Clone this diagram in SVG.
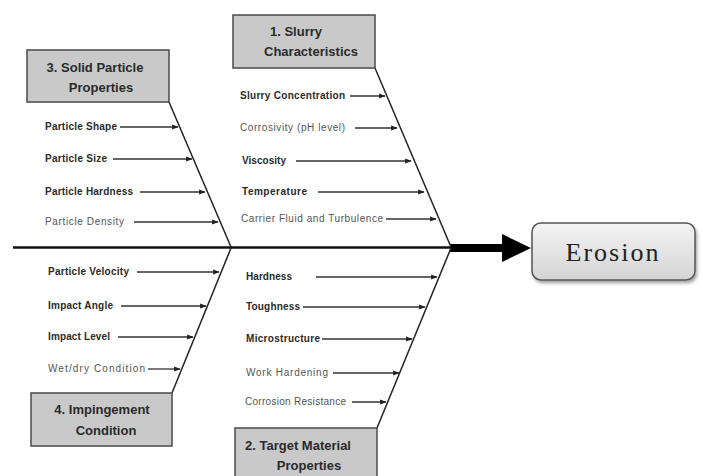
<svg xmlns="http://www.w3.org/2000/svg" width="703" height="476" viewBox="0 0 703 476">
<defs>
<style>
.box{fill:#c9c9c9;stroke:#4a4a4a;stroke-width:1.5}
.title{font-family:"Liberation Sans",Arial,sans-serif;font-size:13px;font-weight:bold;fill:#2a2a2a;text-anchor:middle}
.lb{font-family:"Liberation Sans",Arial,sans-serif;font-size:10px;font-weight:bold;fill:#2a2a2a}
.ll{font-family:"Liberation Sans",Arial,sans-serif;font-size:10px;fill:#555}
.arr{stroke:#333;stroke-width:1.3;fill:none;marker-end:url(#ah)}
.bone{stroke:#222;stroke-width:1.5;fill:none}
</style>
<marker id="ah" viewBox="0 0 10 10" refX="9" refY="5" markerWidth="5" markerHeight="5" orient="auto" markerUnits="strokeWidth">
<path d="M0,1 L10,5 L0,9 z" fill="#222"/>
</marker>
<linearGradient id="eg" x1="0" y1="0" x2="0" y2="1">
<stop offset="0" stop-color="#f4f4f4"/>
<stop offset="1" stop-color="#d4d4d4"/>
</linearGradient>
<filter id="sh" x="-10%" y="-10%" width="130%" height="140%">
<feDropShadow dx="1.5" dy="2.5" stdDeviation="1.5" flood-color="#000" flood-opacity="0.35"/>
</filter>
</defs>
<rect width="703" height="476" fill="#fff"/>

<g id="connectors">
<line x1="13" y1="247.5" x2="452" y2="247.5" stroke="#111" stroke-width="2.5"/>
<line x1="450" y1="248" x2="504" y2="248" stroke="#000" stroke-width="8"/>
<polygon points="502,234 531,248 502,262" fill="#000"/>
<line class="bone" x1="169" y1="102" x2="231" y2="247"/>
<line class="bone" x1="375" y1="68" x2="451" y2="247"/>
<line class="bone" x1="172" y1="393" x2="231" y2="248"/>
<line class="bone" x1="377" y1="428" x2="451" y2="248"/>
<line class="arr" x1="120" y1="127" x2="178" y2="127"/>
<line class="arr" x1="113" y1="159" x2="192" y2="159"/>
<line class="arr" x1="140" y1="192" x2="205" y2="192"/>
<line class="arr" x1="134" y1="222" x2="218" y2="222"/>
<line class="arr" x1="350" y1="96" x2="385" y2="96"/>
<line class="arr" x1="355" y1="128" x2="397" y2="128"/>
<line class="arr" x1="296" y1="161" x2="411" y2="161"/>
<line class="arr" x1="318" y1="192" x2="424" y2="192"/>
<line class="arr" x1="386" y1="219" x2="436" y2="219"/>
<line class="arr" x1="137" y1="272" x2="219" y2="272"/>
<line class="arr" x1="121" y1="306" x2="206" y2="306"/>
<line class="arr" x1="118" y1="337" x2="193" y2="337"/>
<line class="arr" x1="148" y1="369" x2="180" y2="369"/>
<line class="arr" x1="316" y1="277" x2="437" y2="277"/>
<line class="arr" x1="303" y1="307" x2="425" y2="307"/>
<line class="arr" x1="322" y1="339" x2="412" y2="339"/>
<line class="arr" x1="333" y1="373" x2="399" y2="373"/>
<line class="arr" x1="352" y1="402" x2="386" y2="402"/>
</g>

<g id="n3">
<rect class="box" x="27" y="50" width="142" height="52"/>
<text class="title" x="95" y="72">3. Solid Particle</text>
<text class="title" x="101" y="92">Properties</text>
</g>
<g id="n1">
<rect class="box" x="233" y="15" width="142" height="53"/>
<text class="title" x="296" y="36">1. Slurry</text>
<text class="title" x="311" y="56">Characteristics</text>
</g>
<g id="n4">
<rect class="box" x="31" y="393" width="141" height="53"/>
<text class="title" x="102" y="414">4. Impingement</text>
<text class="title" x="106" y="435">Condition</text>
</g>
<g id="n2">
<rect class="box" x="235" y="428" width="142" height="60"/>
<text class="title" x="298" y="450">2. Target Material</text>
<text class="title" x="309" y="470">Properties</text>
</g>
<g id="erosion">
<rect x="532" y="223" width="163" height="57" rx="9" fill="url(#eg)" stroke="#555" stroke-width="1.5" filter="url(#sh)"/>
<text x="613" y="261" font-family="'Liberation Serif','DejaVu Serif',serif" font-size="26" letter-spacing="2" fill="#222" text-anchor="middle">Erosion</text>
</g>

<g id="labels">
<text class="lb" x="45" y="130" textLength="72">Particle Shape</text>
<text class="lb" x="45" y="162" textLength="62">Particle Size</text>
<text class="lb" x="45" y="195" textLength="88">Particle Hardness</text>
<text class="ll" x="45" y="225" textLength="79">Particle Density</text>
<text class="lb" x="240" y="99" textLength="105">Slurry Concentration</text>
<text class="ll" x="240" y="131" textLength="105">Corrosivity (pH level)</text>
<text class="lb" x="242" y="164" textLength="44">Viscosity</text>
<text class="lb" x="242" y="195" textLength="65">Temperature</text>
<text class="ll" x="241" y="222" textLength="142">Carrier Fluid and Turbulence</text>
<text class="lb" x="48" y="275" textLength="81">Particle Velocity</text>
<text class="lb" x="48" y="309" textLength="65">Impact Angle</text>
<text class="lb" x="48" y="340" textLength="62">Impact Level</text>
<text class="ll" x="48" y="372" textLength="97">Wet/dry Condition</text>
<text class="lb" x="246" y="280" textLength="46">Hardness</text>
<text class="lb" x="246" y="310" textLength="54">Toughness</text>
<text class="lb" x="246" y="342" textLength="74">Microstructure</text>
<text class="ll" x="246" y="376" textLength="82">Work Hardening</text>
<text class="ll" x="245" y="405" textLength="101">Corrosion Resistance</text>
</g>
</svg>
